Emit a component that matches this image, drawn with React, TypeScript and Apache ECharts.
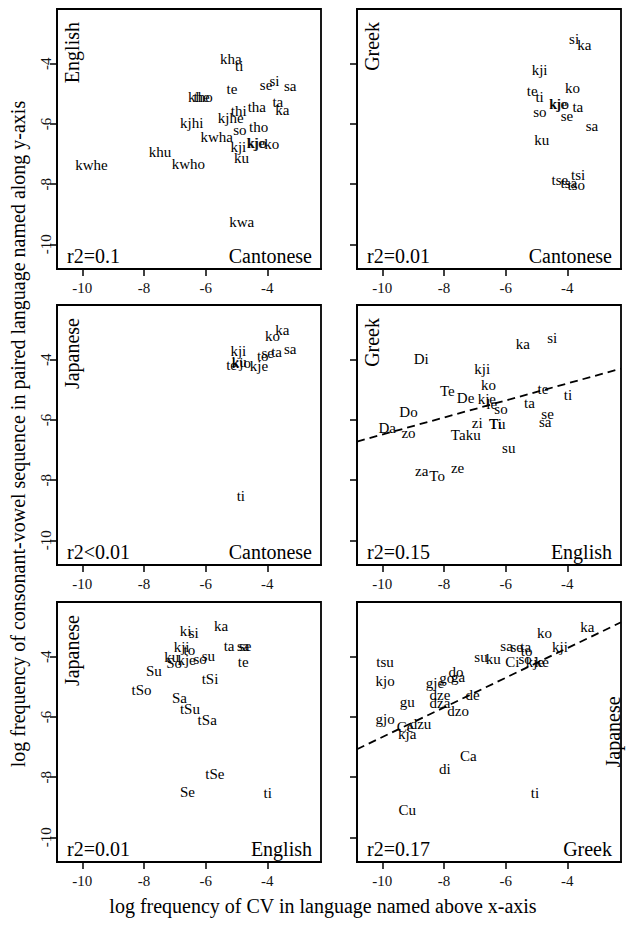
import React, { useEffect, useRef } from 'react';
import * as echarts from 'echarts';

const FONT = '"Liberation Serif", "Times New Roman", Times, serif';
const INK = '#000';

// axis ranges and ticks
const XMIN = -10.82;
const XMAX = -2.26;
const YMIN = -10.82;
const YMAX = -2.18;
const xTicks = [-10, -8, -6, -4];
const yTicks = [-10, -8, -6, -4];

// Panel 1: Cantonese (x) vs English (y)
const p1Labels = ['kha','ti','se','si','sa','te','khe','tho','ta','ka','tha','thi','kjhe','kjhi','tho','so','kwha','kje','kjo','ko','kji','ku','khu','kwho','kwhe','kwa'];
const p1X = [-5.18,-4.91,-4.04,-3.77,-3.26,-5.15,-6.22,-6.08,-3.66,-3.51,-4.34,-4.93,-5.19,-6.45,-4.28,-4.89,-5.64,-4.38,-4.33,-3.86,-4.94,-4.84,-7.48,-6.56,-9.70,-4.83];
const p1Y = [-3.83,-4.06,-4.69,-4.56,-4.75,-4.84,-5.09,-5.09,-5.26,-5.53,-5.42,-5.56,-5.81,-5.98,-6.10,-6.21,-6.43,-6.64,-6.64,-6.68,-6.76,-7.12,-6.92,-7.32,-7.38,-9.27];

// Panel 2: Cantonese (x) vs Greek (y)
const p2Labels = ['si','ka','kji','ko','te','ti','kje','kjo','ta','so','se','sa','ku','tsi','tse','tsa','tso'];
const p2X = [-3.78,-3.45,-4.90,-3.83,-5.14,-4.90,-4.30,-4.26,-3.66,-4.89,-4.01,-3.20,-4.83,-3.65,-4.24,-3.95,-3.71];
const p2Y = [-3.19,-3.39,-4.22,-4.80,-4.89,-5.11,-5.34,-5.34,-5.44,-5.59,-5.75,-6.08,-6.53,-7.70,-7.85,-7.96,-8.04];

// Panel 3: Cantonese (x) vs Japanese (y)
const p3Labels = ['ka','ko','sa','kji','se','ta','to','te','ku','kjo','kje','ti'];
const p3X = [-3.51,-3.83,-3.26,-4.94,-3.99,-3.70,-4.15,-5.16,-4.91,-4.84,-4.27,-4.86];
const p3Y = [-3.00,-3.22,-3.64,-3.72,-3.77,-3.75,-3.86,-4.19,-4.08,-4.12,-4.21,-8.54];

// Panel 4: English (x) vs Greek (y)
const p4Labels = ['si','ka','Di','kji','ko','Te','te','ti','De','kje','le','so','ta','se','sa','Do','zi','Tu','Ti','Da','zo','Ta','ku','su','za','To','ze'];
const p4X = [-4.49,-5.44,-8.74,-6.76,-6.56,-7.89,-4.79,-3.98,-7.30,-6.61,-6.45,-6.15,-5.23,-4.64,-4.72,-9.15,-6.92,-6.27,-6.33,-9.84,-9.15,-7.54,-7.05,-5.90,-8.72,-8.22,-7.56];
const p4Y = [-3.27,-3.47,-3.97,-4.30,-4.85,-5.05,-4.98,-5.18,-5.27,-5.32,-5.48,-5.63,-5.42,-5.79,-6.06,-5.73,-6.09,-6.14,-6.15,-6.26,-6.45,-6.51,-6.51,-6.92,-7.69,-7.85,-7.58];
const p4Fit = { intercept: -3.655, slope: 0.283 };

// Panel 5: English (x) vs Japanese (y)
const p5Labels = ['ka','ki','si','ta','sa','se','kji','to','su','ku','So','kje','so','te','Su','tSi','tSo','Sa','tSu','tSa','tSe','Se','ti'];
const p5X = [-5.50,-6.65,-6.39,-5.24,-4.78,-4.72,-6.78,-6.53,-5.91,-7.10,-7.02,-6.62,-6.18,-4.78,-7.68,-5.86,-8.08,-6.85,-6.51,-5.95,-5.70,-6.59,-3.99];
const p5Y = [-2.98,-3.15,-3.22,-3.65,-3.63,-3.63,-3.67,-3.76,-3.98,-4.02,-4.22,-4.11,-4.08,-4.17,-4.48,-4.74,-5.11,-5.36,-5.72,-6.10,-7.91,-8.49,-8.52];

// Panel 6: Greek (x) vs Japanese (y)
const p6Labels = ['ka','ko','kji','sa','se','ta','to','su','ku','Ci','so','kje','ke','tsu','kjo','do','ga','go','gje','dze','de','gu','dza','dzo','gjo','dzu','Ce','kja','Ca','di','ti','Cu'];
const p6X = [-3.35,-4.74,-4.24,-5.97,-5.64,-5.35,-5.32,-6.80,-6.40,-5.78,-5.37,-5.05,-4.83,-9.91,-9.91,-7.61,-7.54,-7.91,-8.29,-8.13,-7.07,-9.19,-8.13,-7.54,-9.91,-8.76,-9.26,-9.19,-7.21,-7.97,-5.05,-9.19];
const p6Y = [-3.01,-3.22,-3.69,-3.64,-3.69,-3.67,-3.80,-4.00,-4.08,-4.19,-4.06,-4.19,-4.19,-4.19,-4.82,-4.50,-4.66,-4.72,-4.87,-5.27,-5.27,-5.51,-5.54,-5.80,-6.06,-6.25,-6.34,-6.58,-7.30,-7.72,-8.54,-9.09];
const p6Fit = { intercept: -1.74, slope: 0.493 };

const r2Texts = ['r2=0.1', 'r2=0.01', 'r2<0.01', 'r2=0.15', 'r2=0.01', 'r2=0.17'];
const xLangs = ['Cantonese', 'Cantonese', 'Cantonese', 'English', 'English', 'Greek'];
const yLangs = ['English', 'Greek', 'Japanese', 'Greek', 'Japanese', 'Japanese'];

const X_TITLE = 'log frequency of CV in language named above x-axis';
const Y_TITLE = 'log frequency of consonant-vowel sequence in paired language named along y-axis';

// layout
const COLS = [57, 357];
const ROWS = [9, 305, 602];
const PW = 264;
const PH = 260;

type Panel = { labels: string[]; xs: number[]; ys: number[]; fit?: { intercept: number; slope: number } };
const panels: Panel[] = [
  { labels: p1Labels, xs: p1X, ys: p1Y },
  { labels: p2Labels, xs: p2X, ys: p2Y },
  { labels: p3Labels, xs: p3X, ys: p3Y },
  { labels: p4Labels, xs: p4X, ys: p4Y, fit: p4Fit },
  { labels: p5Labels, xs: p5X, ys: p5Y },
  { labels: p6Labels, xs: p6X, ys: p6Y, fit: p6Fit },
];

function buildOption() {
  const grid: any[] = [];
  const xAxis: any[] = [];
  const yAxis: any[] = [];
  const series: any[] = [];
  const graphic: any[] = [];

  panels.forEach((p, i) => {
    const col = i % 2;
    const row = Math.floor(i / 2);
    const left = COLS[col];
    const top = ROWS[row];
    grid.push({
      left, top, width: PW, height: PH,
      show: true, borderColor: '#000', borderWidth: 1.8, backgroundColor: 'transparent',
      containLabel: false, outerBoundsMode: 'none',
    });
    xAxis.push({
      gridIndex: i, type: 'value', min: XMIN, max: XMAX,
      axisLine: { show: true, onZero: false, lineStyle: { color: '#000', width: 1.8 } },
      axisTick: { show: true, inside: false, length: 7, customValues: xTicks, lineStyle: { color: '#000', width: 1.5 } },
      axisLabel: { show: true, customValues: xTicks, formatter: (v: number) => String(v), fontFamily: FONT, fontSize: 15, color: '#111', margin: 11 },
      splitLine: { show: false },
    });
    yAxis.push({
      gridIndex: i, type: 'value', min: YMIN, max: YMAX,
      axisLine: { show: true, onZero: false, lineStyle: { color: '#000', width: 1.8 } },
      axisTick: { show: true, inside: false, length: 7, customValues: yTicks, lineStyle: { color: '#000', width: 1.5 } },
      axisLabel: { show: col === 0, customValues: yTicks, rotate: 90, formatter: (v: number) => String(v), fontFamily: FONT, fontSize: 15, color: '#111', margin: 4 },
      splitLine: { show: false },
    });
    series.push({
      type: 'scatter', xAxisIndex: i, yAxisIndex: i, silent: true,
      symbol: 'circle', symbolSize: 1,
      itemStyle: { color: 'rgba(0,0,0,0)' },
      data: p.labels.map((l, k) => [p.xs[k], p.ys[k], l]),
      label: {
        show: true, position: 'inside', formatter: (d: any) => d.data[2],
        fontFamily: FONT, fontSize: 15, color: INK, opacity: 1, align: 'center', verticalAlign: 'middle',
      },
      emphasis: { disabled: true },
    });
    if (p.fit) {
      const f = p.fit;
      series.push({
        type: 'line', xAxisIndex: i, yAxisIndex: i, silent: true, showSymbol: false, clip: true,
        data: [[XMIN, f.intercept + f.slope * XMIN], [XMAX, f.intercept + f.slope * XMAX]],
        lineStyle: { color: '#000', width: 1.8, type: [8, 5] },
      });
    }
    // r2 text
    graphic.push({
      type: 'text', x: left + 10, y: top + PH - 13, silent: true,
      style: { text: r2Texts[i], fontFamily: FONT, fontSize: 20, fill: INK, align: 'left', verticalAlign: 'middle' },
    });
    // x language
    graphic.push({
      type: 'text', x: left + PW - 9, y: top + PH - 13, silent: true,
      style: { text: xLangs[i], fontFamily: FONT, fontSize: 20, fill: INK, align: 'right', verticalAlign: 'middle' },
    });
    // y language
    if (i === 5) {
      graphic.push({
        type: 'text', x: left + PW - 8, y: top + PH / 2, rotation: Math.PI / 2, silent: true,
        style: { text: yLangs[i], fontFamily: FONT, fontSize: 20, fill: INK, align: 'center', verticalAlign: 'middle' },
      });
    } else {
      graphic.push({
        type: 'text', x: left + 15, y: top + 13, rotation: Math.PI / 2, silent: true,
        style: { text: yLangs[i], fontFamily: FONT, fontSize: 20, fill: INK, align: 'right', verticalAlign: 'middle' },
      });
    }
  });

  graphic.push({
    type: 'text', x: 323, y: 906, silent: true,
    style: { text: X_TITLE, fontFamily: FONT, fontSize: 20, fill: INK, align: 'center', verticalAlign: 'middle' },
  });
  graphic.push({
    type: 'text', x: 18, y: 434, rotation: Math.PI / 2, silent: true,
    style: { text: Y_TITLE, fontFamily: FONT, fontSize: 20, fill: INK, align: 'center', verticalAlign: 'middle' },
  });

  return {
    animation: false,
    backgroundColor: '#fff',
    grid, xAxis, yAxis, series, graphic,
  };
}

export default function App() {
  const ref = useRef<HTMLDivElement>(null);
  useEffect(() => {
    if (!ref.current) return;
    const chart = echarts.init(ref.current, null, { renderer: 'svg' });
    chart.setOption(buildOption() as any);
    return () => chart.dispose();
  }, []);
  return (
    <div
      ref={ref}
      style={{ position: 'fixed', left: 0, top: 0, width: 632, height: 925, background: '#fff' }}
    />
  );
}
